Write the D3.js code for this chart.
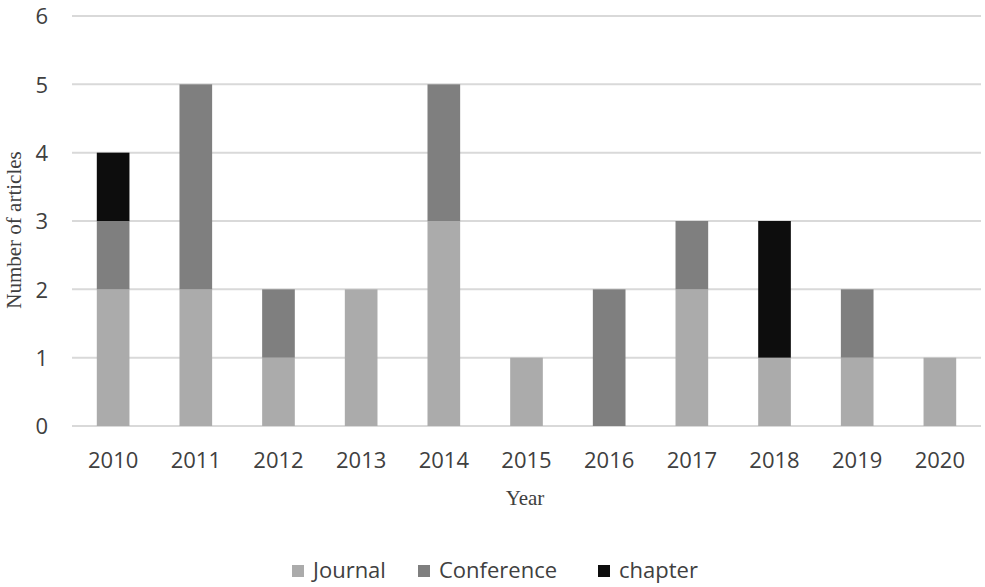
<!DOCTYPE html>
<html>
<head>
<meta charset="utf-8">
<script src="https://cdn.jsdelivr.net/npm/d3@7"></script>
<style>
  body { margin: 0; background: #fff; }
  svg text { fill: #404040; }
</style>
</head>
<body>
<svg id="chart" width="985" height="587"></svg>
<script>
// Publications per year, stacked by type.
var years = ["2010", "2011", "2012", "2013", "2014", "2015", "2016", "2017", "2018", "2019", "2020"];
var journal = [2, 2, 1, 2, 3, 1, 0, 2, 1, 1, 1];
var conference = [1, 3, 1, 0, 2, 0, 2, 1, 0, 1, 0];
var chapter = [1, 0, 0, 0, 0, 0, 0, 0, 2, 0, 0];
var seriesNames = ["Journal", "Conference", "chapter"];
var yTicks = [0, 1, 2, 3, 4, 5, 6];

var colors = { "Journal": "#ababab", "Conference": "#7f7f7f", "chapter": "#0d0d0d" };

var svg = d3.select("#chart");
// (window.top is read-only, so keep plot edges in their own object)
var plot = { left: 72, right: 981, top: 16, bottom: 426 };

var rows = years.map(function (yr, i) {
    return { year: yr, Journal: journal[i], Conference: conference[i], chapter: chapter[i] };
});
var stacked = d3.stack().keys(seriesNames)(rows);

var x = d3.scaleBand().domain(years).range([plot.left, plot.right]).paddingInner(0.605).paddingOuter(0.3);
var y = d3.scaleLinear().domain([0, 6]).range([plot.bottom, plot.top]);

// Gridlines first so bars sit on top.
svg.append("g").selectAll("line")
    .data(yTicks)
    .enter().append("line")
    .attr("x1", plot.left).attr("x2", plot.right)
    .attr("y1", function (d) { return y(d); })
    .attr("y2", function (d) { return y(d); })
    .attr("stroke", "#d9d9d9")
    .attr("stroke-width", 2);

svg.append("g").selectAll("g")
    .data(stacked)
    .enter().append("g")
    .attr("fill", function (s) { return colors[s.key]; })
    .selectAll("rect")
    .data(function (s) { return s; })
    .enter().append("rect")
    .attr("x", function (d) { return x(d.data.year); })
    .attr("width", x.bandwidth())
    .attr("y", function (d) { return y(d[1]); })
    .attr("height", function (d) { return y(d[0]) - y(d[1]); });

// Y axis labels (no axis line).
var yAxis = svg.append("g")
    .attr("transform", "translate(" + (plot.left - 24) + ",0)")
    .call(d3.axisLeft(y).tickValues(yTicks).tickFormat(d3.format("d")).tickSize(0).tickPadding(0));
yAxis.select(".domain").remove();
yAxis.selectAll("text")
    .attr("fill", "#404040")
    .style("font-family", "'Open Sans', sans-serif")
    .style("font-size", "22px")
    .attr("dy", "0.35em");

var xAxis = svg.append("g")
    .attr("transform", "translate(0," + plot.bottom + ")")
    .call(d3.axisBottom(x).tickSize(0).tickPadding(0));
xAxis.select(".domain").remove();
xAxis.selectAll("text")
    .attr("fill", "#404040")
    .attr("y", 42)
    .attr("dy", 0)
    .style("font-family", "'Open Sans', sans-serif")
    .style("font-size", "22px");

// Axis titles in a serif face.
svg.append("text")
    .attr("x", 525).attr("y", 505)
    .attr("text-anchor", "middle")
    .style("font-family", "'Liberation Serif', serif")
    .style("font-size", "21px")
    .text("Year");

svg.append("text")
    .attr("transform", "translate(21,230) rotate(-90)")
    .attr("text-anchor", "middle")
    .style("font-family", "'Liberation Serif', serif")
    .style("font-size", "21px")
    .text("Number of articles");

// Legend along the bottom.
var legendX = [292, 418, 598];
var legend = svg.append("g").selectAll("g")
    .data(seriesNames)
    .enter().append("g")
    .attr("transform", function (d, i) { return "translate(" + legendX[i] + ",565)"; });
legend.append("rect")
    .attr("width", 12).attr("height", 12)
    .attr("fill", function (d) { return colors[d]; });
legend.append("text")
    .attr("x", 21).attr("y", 13)
    .style("font-family", "'Open Sans', sans-serif")
    .style("font-size", "22px")
    .text(function (d) { return d; });
</script>
</body>
</html>
